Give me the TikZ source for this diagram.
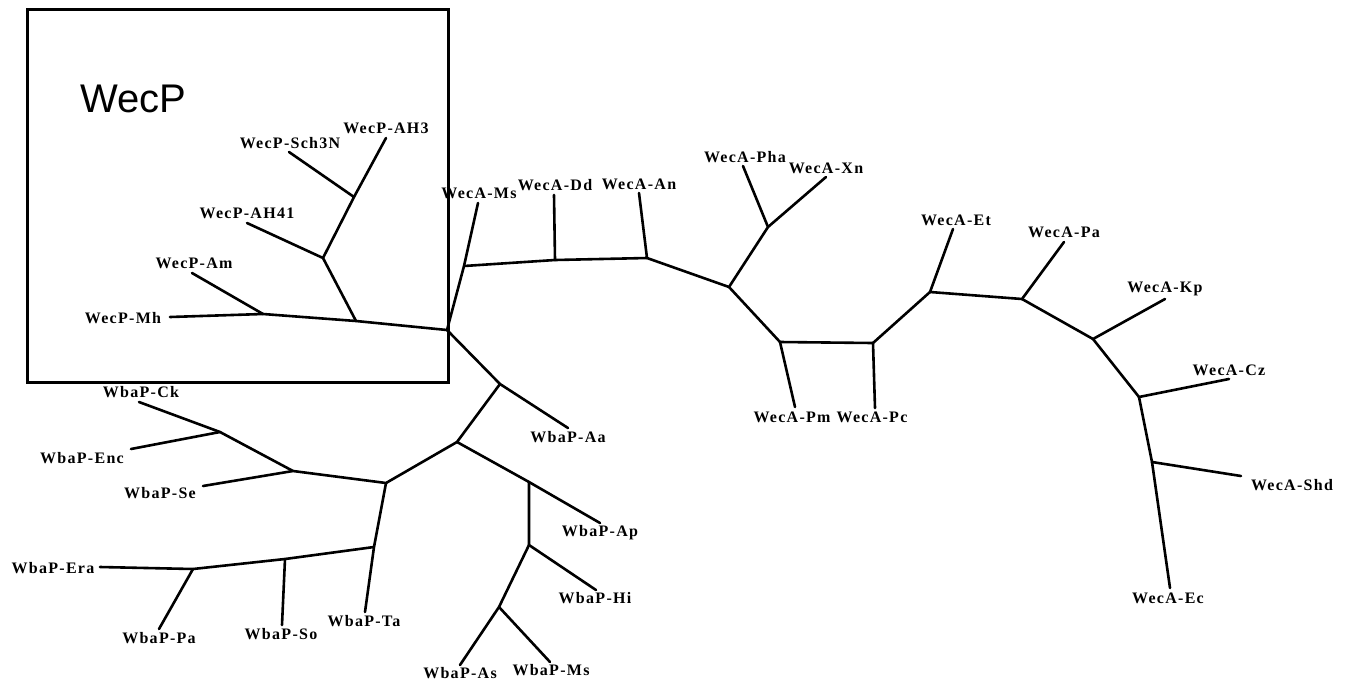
\documentclass[tikz,border=0pt]{standalone}
\usepackage{fontspec}
\setmainfont{Liberation Serif}
\newfontfamily\lblfont[LetterSpace=8]{Liberation Serif}
\newfontfamily\bigsans{Liberation Sans}
\begin{document}
\begin{tikzpicture}[x=1pt,y=-1pt,
  branch/.style={line width=2.6pt,line cap=round,line join=round},
  lbl/.style={inner sep=0pt,font=\lblfont\bfseries\fontsize{16}{16}\selectfont},
  frame/.style={line width=3pt}]
\useasboundingbox (0,0) rectangle (1349,681);
% frame and title
\draw[frame] (27,9) rectangle (448,382);
\node[inner sep=0pt,anchor=base west,font=\bigsans\fontsize{40}{40}\selectfont] (title) at (80,112) {WecP};
% internal coordinates
\coordinate (R) at (447,330);
\coordinate (P1) at (356,321);
\coordinate (P2) at (263,314);
\coordinate (P3) at (323,258);
\coordinate (P4) at (354,197);
\coordinate (W1) at (464,266);
\coordinate (W2) at (555,260);
\coordinate (W3) at (647,258);
\coordinate (W4) at (729,287);
\coordinate (W5) at (768,227);
\coordinate (W6) at (780,342);
\coordinate (W7) at (873,343);
\coordinate (W8) at (930,292);
\coordinate (W9) at (1022,299);
\coordinate (W10) at (1093,339);
\coordinate (W11) at (1139,397);
\coordinate (W12) at (1152,462);
\coordinate (B0) at (500,384);
\coordinate (B2) at (457,442);
\coordinate (B1) at (386,483);
\coordinate (B3) at (529,482);
\coordinate (B4) at (529,545);
\coordinate (B5) at (499,607);
\coordinate (B6) at (293,471);
\coordinate (B7) at (220,432);
\coordinate (B8) at (374,547);
\coordinate (B9) at (285,559);
\coordinate (B10) at (193,569);
% leaf ends
\coordinate (eMh) at (170,317);
\coordinate (eAm) at (192,273);
\coordinate (eAH41) at (247,223);
\coordinate (eSch) at (289,152);
\coordinate (eAH3) at (386,138);
\coordinate (eMs) at (478,203);
\coordinate (eDd) at (554,195);
\coordinate (eAn) at (639,193);
\coordinate (ePha) at (743,166);
\coordinate (eXn) at (826,177);
\coordinate (ePm) at (795,407);
\coordinate (ePc) at (875,408);
\coordinate (eEt) at (953,229);
\coordinate (ePa) at (1064,242);
\coordinate (eKp) at (1165,299);
\coordinate (eCz) at (1229,379);
\coordinate (eShd) at (1241,476);
\coordinate (eEc) at (1170,588);
\coordinate (eAa) at (568,428);
\coordinate (eAp) at (600,523);
\coordinate (eHi) at (596,590);
\coordinate (eAs) at (460,665);
\coordinate (eBMs) at (550,662);
\coordinate (eSe) at (203,486);
\coordinate (eCk) at (139,402);
\coordinate (eEnc) at (131,449);
\coordinate (eTa) at (365,612);
\coordinate (eSo) at (282,625);
\coordinate (eEra) at (100,567);
\coordinate (eBPa) at (159,629);
% WecP branches
\draw[branch] (R) -- (P1) -- (P2) -- (eMh);
\draw[branch] (P2) -- (eAm);
\draw[branch] (P1) -- (P3) -- (eAH41);
\draw[branch] (P3) -- (P4) -- (eSch);
\draw[branch] (P4) -- (eAH3);
% WecA branches
\draw[branch] (R) -- (W1) -- (eMs);
\draw[branch] (W1) -- (W2) -- (eDd);
\draw[branch] (W2) -- (W3) -- (eAn);
\draw[branch] (W3) -- (W4) -- (W5) -- (ePha);
\draw[branch] (W5) -- (eXn);
\draw[branch] (W4) -- (W6) -- (ePm);
\draw[branch] (W6) -- (W7) -- (ePc);
\draw[branch] (W7) -- (W8) -- (eEt);
\draw[branch] (W8) -- (W9) -- (ePa);
\draw[branch] (W9) -- (W10) -- (eKp);
\draw[branch] (W10) -- (W11) -- (eCz);
\draw[branch] (W11) -- (W12) -- (eShd);
\draw[branch] (W12) -- (eEc);
% WbaP branches
\draw[branch] (R) -- (B0) -- (eAa);
\draw[branch] (B0) -- (B2) -- (B3) -- (eAp);
\draw[branch] (B3) -- (B4) -- (eHi);
\draw[branch] (B4) -- (B5) -- (eAs);
\draw[branch] (B5) -- (eBMs);
\draw[branch] (B2) -- (B1) -- (B6) -- (eSe);
\draw[branch] (B6) -- (B7) -- (eCk);
\draw[branch] (B7) -- (eEnc);
\draw[branch] (B1) -- (B8) -- (eTa);
\draw[branch] (B8) -- (B9) -- (eSo);
\draw[branch] (B9) -- (B10) -- (eEra);
\draw[branch] (B10) -- (eBPa);
% labels
\node[lbl] (lMh) at (123,318) {WecP-Mh};
\node[lbl] (lAm) at (194,263) {WecP-Am};
\node[lbl] (lAH41) at (247,213) {WecP-AH41};
\node[lbl] (lSch) at (290,143) {WecP-Sch3N};
\node[lbl] (lAH3) at (386,128) {WecP-AH3};
\node[lbl] (lMs) at (479,193) {WecA-Ms};
\node[lbl] (lDd) at (555,185) {WecA-Dd};
\node[lbl] (lAn) at (639,184) {WecA-An};
\node[lbl] (lPha) at (745,157) {WecA-Pha};
\node[lbl] (lXn) at (826,168) {WecA-Xn};
\node[lbl] (lPm) at (792,417) {WecA-Pm};
\node[lbl] (lPc) at (872,417) {WecA-Pc};
\node[lbl] (lEt) at (956,220) {WecA-Et};
\node[lbl] (lPa) at (1064,232) {WecA-Pa};
\node[lbl] (lKp) at (1165,289) {WecA-Kp};
\node[lbl] (lCz) at (1229,370) {WecA-Cz};
\node[lbl] (lShd) at (1292,485) {WecA-Shd};
\node[lbl] (lEc) at (1168,598) {WecA-Ec};
\node[lbl] (lAa) at (568,437) {WbaP-Aa};
\node[lbl] (lAp) at (600,533) {WbaP-Ap};
\node[lbl] (lHi) at (595,598) {WbaP-Hi};
\node[lbl] (lAs) at (460,673) {WbaP-As};
\node[lbl] (lBMs) at (551,670) {WbaP-Ms};
\node[lbl] (lCk) at (141,392) {WbaP-Ck};
\node[lbl] (lEnc) at (82,458) {WbaP-Enc};
\node[lbl] (lSe) at (160,493) {WbaP-Se};
\node[lbl] (lEra) at (53,568) {WbaP-Era};
\node[lbl] (lBPa) at (159,638) {WbaP-Pa};
\node[lbl] (lSo) at (281,634) {WbaP-So};
\node[lbl] (lTa) at (364,621) {WbaP-Ta};
\end{tikzpicture}
\end{document}
